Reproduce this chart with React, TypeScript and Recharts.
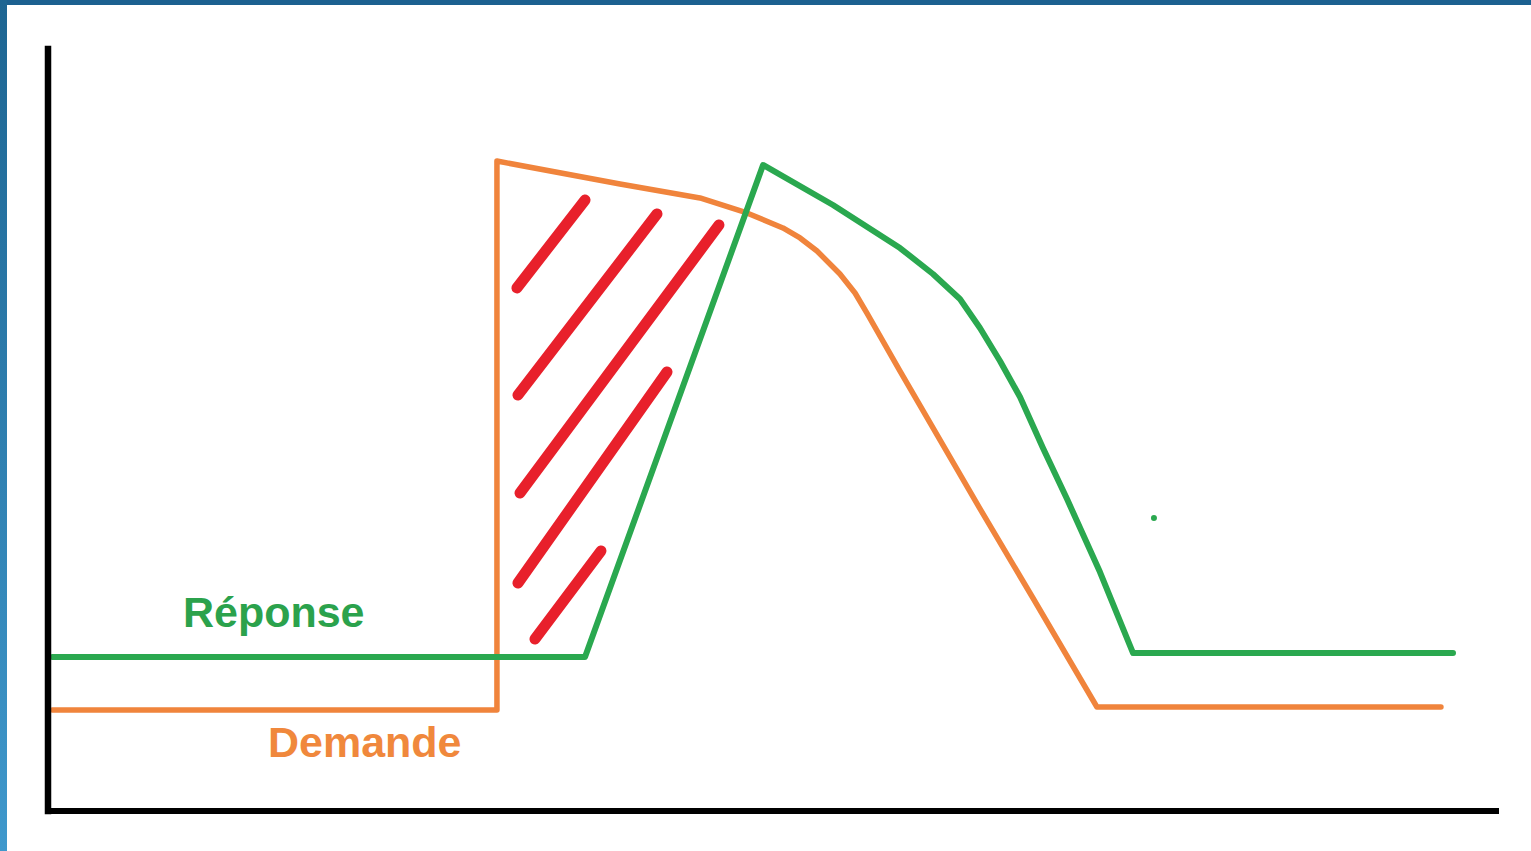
import { Line, LineChart, ReferenceDot, XAxis, YAxis } from "recharts";

const demande = [
  { x: 0.3, y: 13.25 },
  { x: 30.94, y: 13.25 },
  { x: 30.94, y: 85.3 },
  { x: 39.42, y: 82.28 },
  { x: 44.93, y: 80.45 },
  { x: 48.17, y: 78.48 },
  { x: 50.65, y: 76.51 },
  { x: 51.83, y: 75.2 },
  { x: 53.0, y: 73.49 },
  { x: 54.58, y: 70.47 },
  { x: 55.62, y: 67.98 },
  { x: 56.44, y: 65.35 },
  { x: 58.72, y: 57.74 },
  { x: 64.44, y: 38.98 },
  { x: 67.88, y: 27.95 },
  { x: 72.29, y: 13.65 },
  { x: 96.0, y: 13.65 },
];

const reponse = [
  { x: 0.3, y: 20.21 },
  { x: 37.01, y: 20.21 },
  { x: 49.28, y: 84.78 },
  { x: 54.1, y: 79.53 },
  { x: 58.72, y: 73.88 },
  { x: 60.99, y: 70.47 },
  { x: 62.85, y: 67.19 },
  { x: 64.23, y: 63.39 },
  { x: 65.61, y: 59.06 },
  { x: 66.99, y: 54.33 },
  { x: 68.57, y: 47.64 },
  { x: 70.23, y: 40.94 },
  { x: 72.5, y: 31.36 },
  { x: 74.78, y: 20.73 },
  { x: 96.83, y: 20.73 },
];

// Hachures rouges (écart demande / réponse)
const hachures = [
  [{ x: 37.01, y: 80.18 }, { x: 32.32, y: 68.64 }],
  [{ x: 41.97, y: 78.35 }, { x: 32.39, y: 54.59 }],
  [{ x: 46.24, y: 76.9 }, { x: 32.53, y: 41.73 }],
  [{ x: 42.66, y: 57.61 }, { x: 32.39, y: 29.92 }],
  [{ x: 38.11, y: 34.12 }, { x: 33.56, y: 22.57 }],
];

const labels = [
  { text: "Réponse", x: 9.3, y: 24.15, color: "#2ba24c" },
  { text: "Demande", x: 15.16, y: 7.09, color: "#f0883c" },
];

const point = { x: 76.22, y: 38.45 };

const GREEN = "#2aa84f";
const ORANGE = "#f0843c";
const RED = "#e8202b";

export default function App() {
  return (
    <div style={{ position: "relative", width: 1531, height: 851, background: "#fff", overflow: "hidden" }}>
      <style>{"body{margin:0}"}</style>
      <LineChart width={1531} height={851} margin={{ top: 49, right: 32, bottom: 39, left: 47 }}>
        <XAxis
          type="number"
          dataKey="x"
          domain={[0, 100]}
          height={1}
          tick={false}
          tickLine={false}
          axisLine={{ stroke: "#000", strokeWidth: 6 }}
          allowDataOverflow
        />
        <YAxis
          type="number"
          dataKey="y"
          domain={[0, 100]}
          width={1}
          tick={false}
          tickLine={false}
          axisLine={{ stroke: "#000", strokeWidth: 6.5, strokeLinecap: "square" }}
          allowDataOverflow
        />
        {hachures.map((h, i) => (
          <Line
            key={i}
            data={h}
            dataKey="y"
            type="linear"
            stroke={RED}
            strokeWidth={11}
            strokeLinecap="round"
            dot={false}
            activeDot={false}
            isAnimationActive={false}
          />
        ))}
        <Line
          data={demande}
          dataKey="y"
          type="linear"
          stroke={ORANGE}
          strokeWidth={5.5}
          strokeLinecap="round"
          strokeLinejoin="round"
          dot={false}
          activeDot={false}
          isAnimationActive={false}
        />
        <Line
          data={reponse}
          dataKey="y"
          type="linear"
          stroke={GREEN}
          strokeWidth={6}
          strokeLinecap="round"
          strokeLinejoin="round"
          dot={false}
          activeDot={false}
          isAnimationActive={false}
        />
        <ReferenceDot x={point.x} y={point.y} r={3} fill={GREEN} stroke="none" />
        {labels.map((l) => (
          <ReferenceDot
            key={l.text}
            x={l.x}
            y={l.y}
            r={0}
            fill="none"
            stroke="none"
            label={{
              content: (props: any) => {
                const vb = props.viewBox || {};
                return (
                  <text
                    x={vb.x}
                    y={vb.y}
                    fill={l.color}
                    fontFamily="'Liberation Sans', Arial, sans-serif"
                    fontWeight="bold"
                    fontSize={43}
                  >
                    {l.text}
                  </text>
                );
              },
            }}
          />
        ))}
      </LineChart>
      <div style={{ position: "absolute", left: 0, top: 0, width: 1531, height: 5, background: "#1c6190" }} />
      <div
        style={{
          position: "absolute",
          left: 0,
          top: 0,
          width: 7,
          height: 851,
          background: "linear-gradient(#1d6592, #3f98cc)",
        }}
      />
    </div>
  );
}
